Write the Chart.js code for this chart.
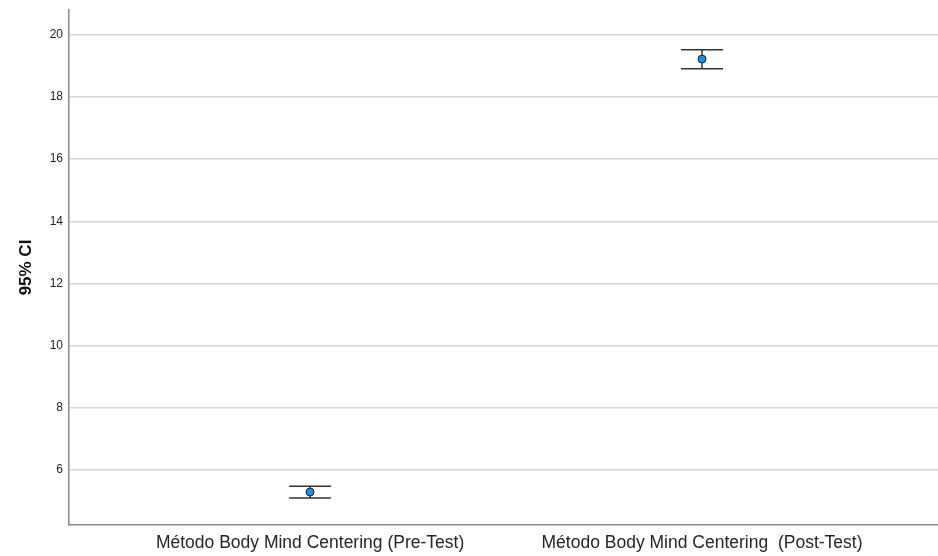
<!DOCTYPE html>
<html>
<head>
<meta charset="utf-8">
<script src="https://cdn.jsdelivr.net/npm/chart.js@4"></script>
<style>
  html, body { margin: 0; padding: 0; background: #fff; }
  #wrap { width: 938px; height: 556px; position: relative; }
</style>
</head>
<body>
<div id="wrap"><canvas id="myChart"></canvas></div>
<script>
// data
const categories = ['Método Body Mind Centering (Pre-Test)', 'Método Body Mind Centering  (Post-Test)'];
const means = [5.29, 19.22];
const lowerCI = [5.10, 18.91];
const upperCI = [5.48, 19.52];
const yTicks = [6, 8, 10, 12, 14, 16, 18, 20];

// error bars drawn under the points
const errorBars = {
    id: 'errorBars',
    beforeDatasetsDraw(chart) {
        const { ctx, scales: { x, y } } = chart;
        ctx.save();
        ctx.strokeStyle = '#333';
        ctx.lineWidth = 1.5;
        means.forEach((m, i) => {
            const px = x.getPixelForValue(i);
            const top = y.getPixelForValue(upperCI[i]);
            const bot = y.getPixelForValue(lowerCI[i]);
            ctx.beginPath();
            ctx.moveTo(px, top);
            ctx.lineTo(px, bot);
            ctx.moveTo(px - 21, top);
            ctx.lineTo(px + 21, top);
            ctx.moveTo(px - 21, bot);
            ctx.lineTo(px + 21, bot);
            ctx.stroke();
        });
        ctx.restore();
    }
};

new Chart(document.getElementById('myChart'), {
    type: 'scatter',
    data: {
        datasets: [{
            data: means.map((v, i) => ({ x: i, y: v })),
            backgroundColor: '#1a8fe3',
            borderColor: '#222',
            borderWidth: 1,
            pointRadius: 4,
        }]
    },
    options: {
        responsive: true,
        maintainAspectRatio: false,
        animation: false,
        layout: { autoPadding: false, padding: { top: 10, right: 0, left: 0, bottom: 0 } },
        plugins: {
            legend: { display: false },
            tooltip: { enabled: false },
        },
        scales: {
            x: {
                type: 'linear',
                min: -0.615,
                max: 1.602,
                afterBuildTicks: (axis) => { axis.ticks = categories.map((c, i) => ({ value: i })); },
                afterFit: (axis) => { axis.height = 31; axis.paddingLeft = 0; axis.paddingRight = 0; },
                grid: { display: false, drawTicks: false },
                border: { display: true, color: '#888', width: 1.5 },
                ticks: {
                    callback: (v) => categories[v],
                    font: { family: 'Liberation Sans', size: 17.5 },
                    color: '#262626',
                    padding: 8,
                    maxRotation: 0,
                    autoSkip: false,
                },
            },
            y: {
                min: 4.23,
                max: 20.8,
                afterBuildTicks: (axis) => { axis.ticks = yTicks.map((v) => ({ value: v })); },
                afterFit: (axis) => { axis.width = 69; axis.paddingTop = 0; axis.paddingBottom = 0; },
                grid: { color: '#d4d4d4', lineWidth: 1.5, drawTicks: false },
                border: { display: true, color: '#888', width: 1.5 },
                ticks: {
                    font: { family: 'Liberation Sans', size: 12 },
                    color: '#222',
                    padding: 6,
                },
                title: {
                    display: true,
                    text: '95% CI',
                    font: { family: 'Liberation Sans', size: 17, weight: 'bold' },
                    color: '#111',
                    padding: { top: 16, bottom: 0 },
                },
            }
        }
    },
    plugins: [errorBars]
});
</script>
</body>
</html>
